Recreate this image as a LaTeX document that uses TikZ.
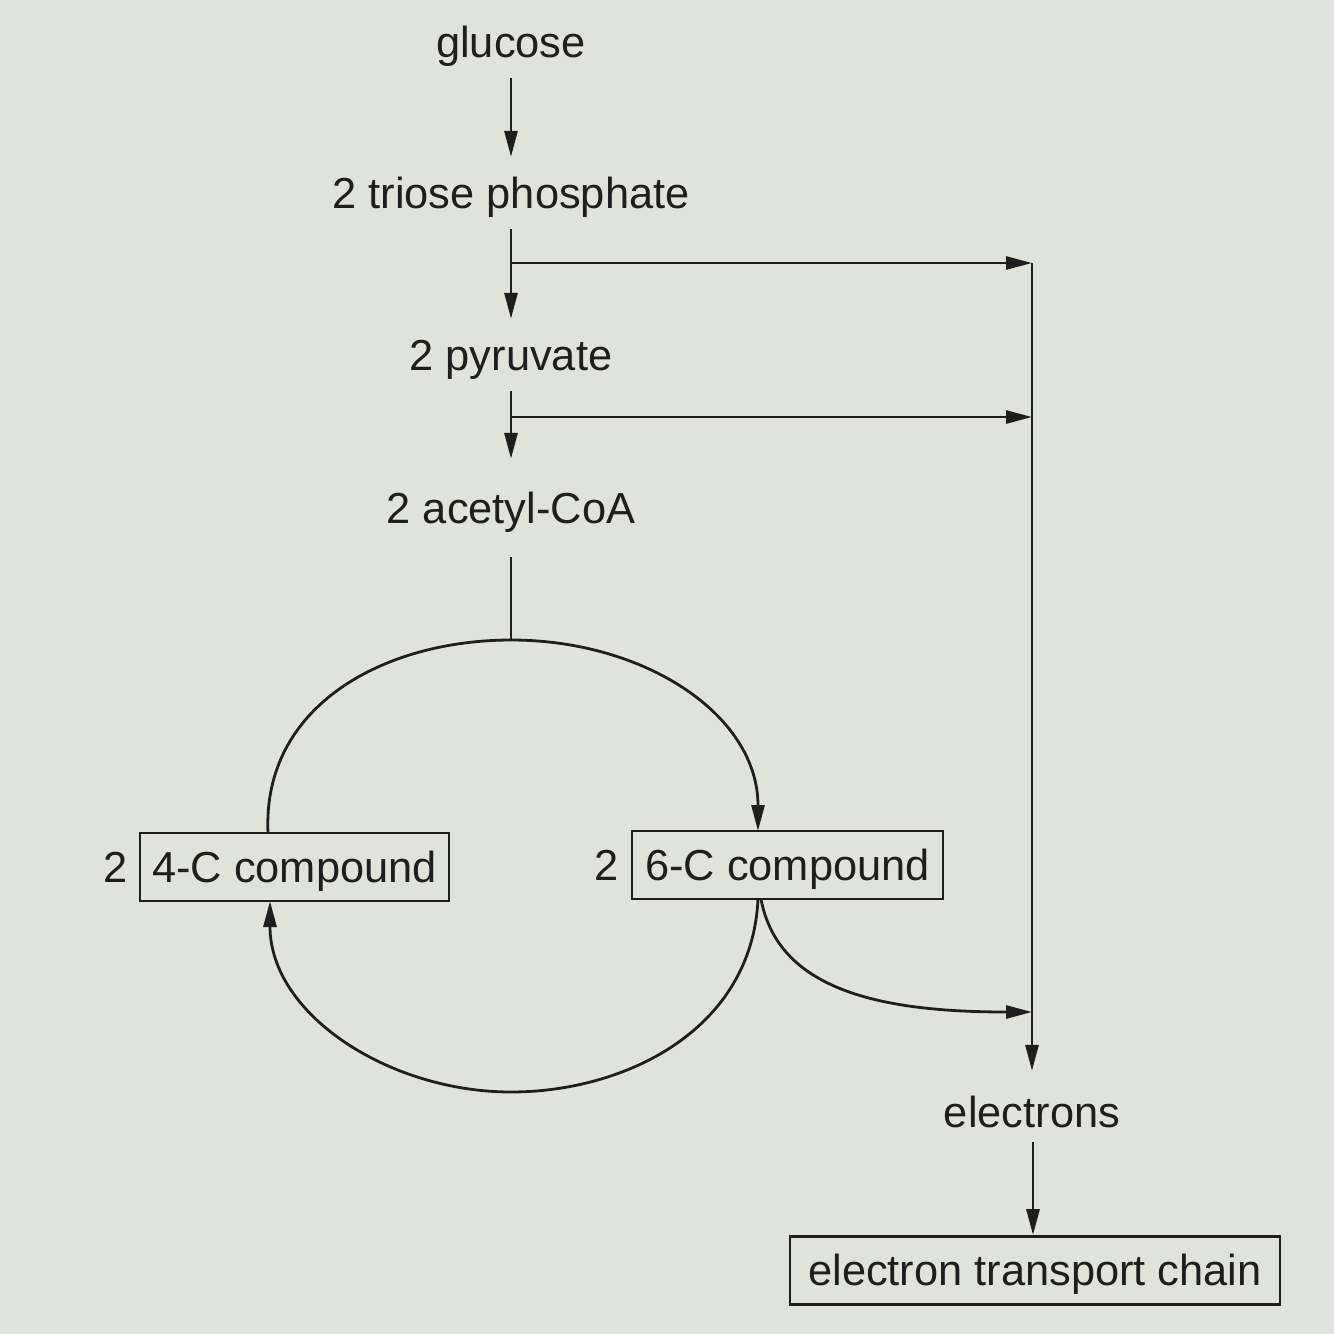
\documentclass[tikz,border=0pt]{standalone}
\usepackage{fontspec}
\setmainfont{Liberation Sans}
\usetikzlibrary{arrows.meta}
\definecolor{paper}{HTML}{E0E3DA}
\definecolor{ink}{HTML}{1E1E1E}
\begin{document}
\begin{tikzpicture}[x=1pt,y=-1pt,
  every node/.style={font=\fontsize{43.4}{50}\selectfont, text=ink, text height=36pt, text depth=6pt},
  lbl/.style={inner xsep=2pt, inner ysep=15pt},
  cbox/.style={draw=ink, line width=2.8pt, inner sep=0pt, minimum height=68pt},
  ln/.style={draw=ink, line width=2.8pt},
  arr/.style={ln, -{Triangle[length=26pt,width=13pt]}}]
\fill[paper] (0,0) rectangle (1334,1334);
\useasboundingbox (0,0) rectangle (1334,1334);

\node[lbl] (glucose) at (511,42) {glucose};
\node[lbl] (triose) at (511,193) {2 triose phosphate};
\node[lbl] (pyruvate) at (511,355) {2 pyruvate};
\node[lbl, inner ysep=28pt] (acetyl) at (511,508) {2 acetyl-CoA};

\node[cbox, minimum width=309pt] (c4) at (294.5,867) {4-C compound};
\node[lbl, inner sep=0pt] (two4) at (116,867) {2};
\node[cbox, minimum width=311pt] (c6) at (787.5,865) {6-C compound};
\node[lbl, inner sep=0pt] (two6) at (607,865) {2};

\node[lbl, inner ysep=20pt] (electrons) at (1032,1112) {electrons};
\node[cbox, minimum width=490pt] (etc) at (1035,1270.5) {electron transport chain};

\coordinate (j1) at (511,263);
\coordinate (r1) at (1032,263);
\coordinate (j2) at (511,417);
\coordinate (r2) at (1032,417);
\coordinate (r3) at (1032,1012);
\coordinate (top) at (511,640);
\coordinate (c4t) at (268,833);
\coordinate (c4b) at (270,901);
\coordinate (c6t) at (758,831);
\coordinate (c6b) at (758,899);
\coordinate (c6b2) at (761,899);
\coordinate (bot) at (511,1092);
\coordinate (e1) at (1033,1142);

\draw[arr] (glucose) -- (triose);
\draw[arr] (triose) -- (pyruvate);
\draw[arr] (j1) -- (r1);
\draw[arr] (pyruvate) -- (acetyl);
\draw[arr] (j2) -- (r2);
\draw[ln] (acetyl) -- (top);

% Krebs cycle
\draw[ln] (c4t) .. controls (262,705) and (385,640) .. (top);
\draw[arr] (top) .. controls (645,640) and (758,715) .. (c6t);
\draw[ln] (c6b) .. controls (752,1030) and (625,1092) .. (bot);
\draw[arr] (bot) .. controls (390,1092) and (270,1015) .. (c4b);

% to electrons
\draw[arr] (c6b2) .. controls (778,990) and (880,1012) .. (r3);
\draw[arr] (r1) -- (electrons);
\draw[arr] (e1) -- (e1 |- etc.north);
\end{tikzpicture}
\end{document}
